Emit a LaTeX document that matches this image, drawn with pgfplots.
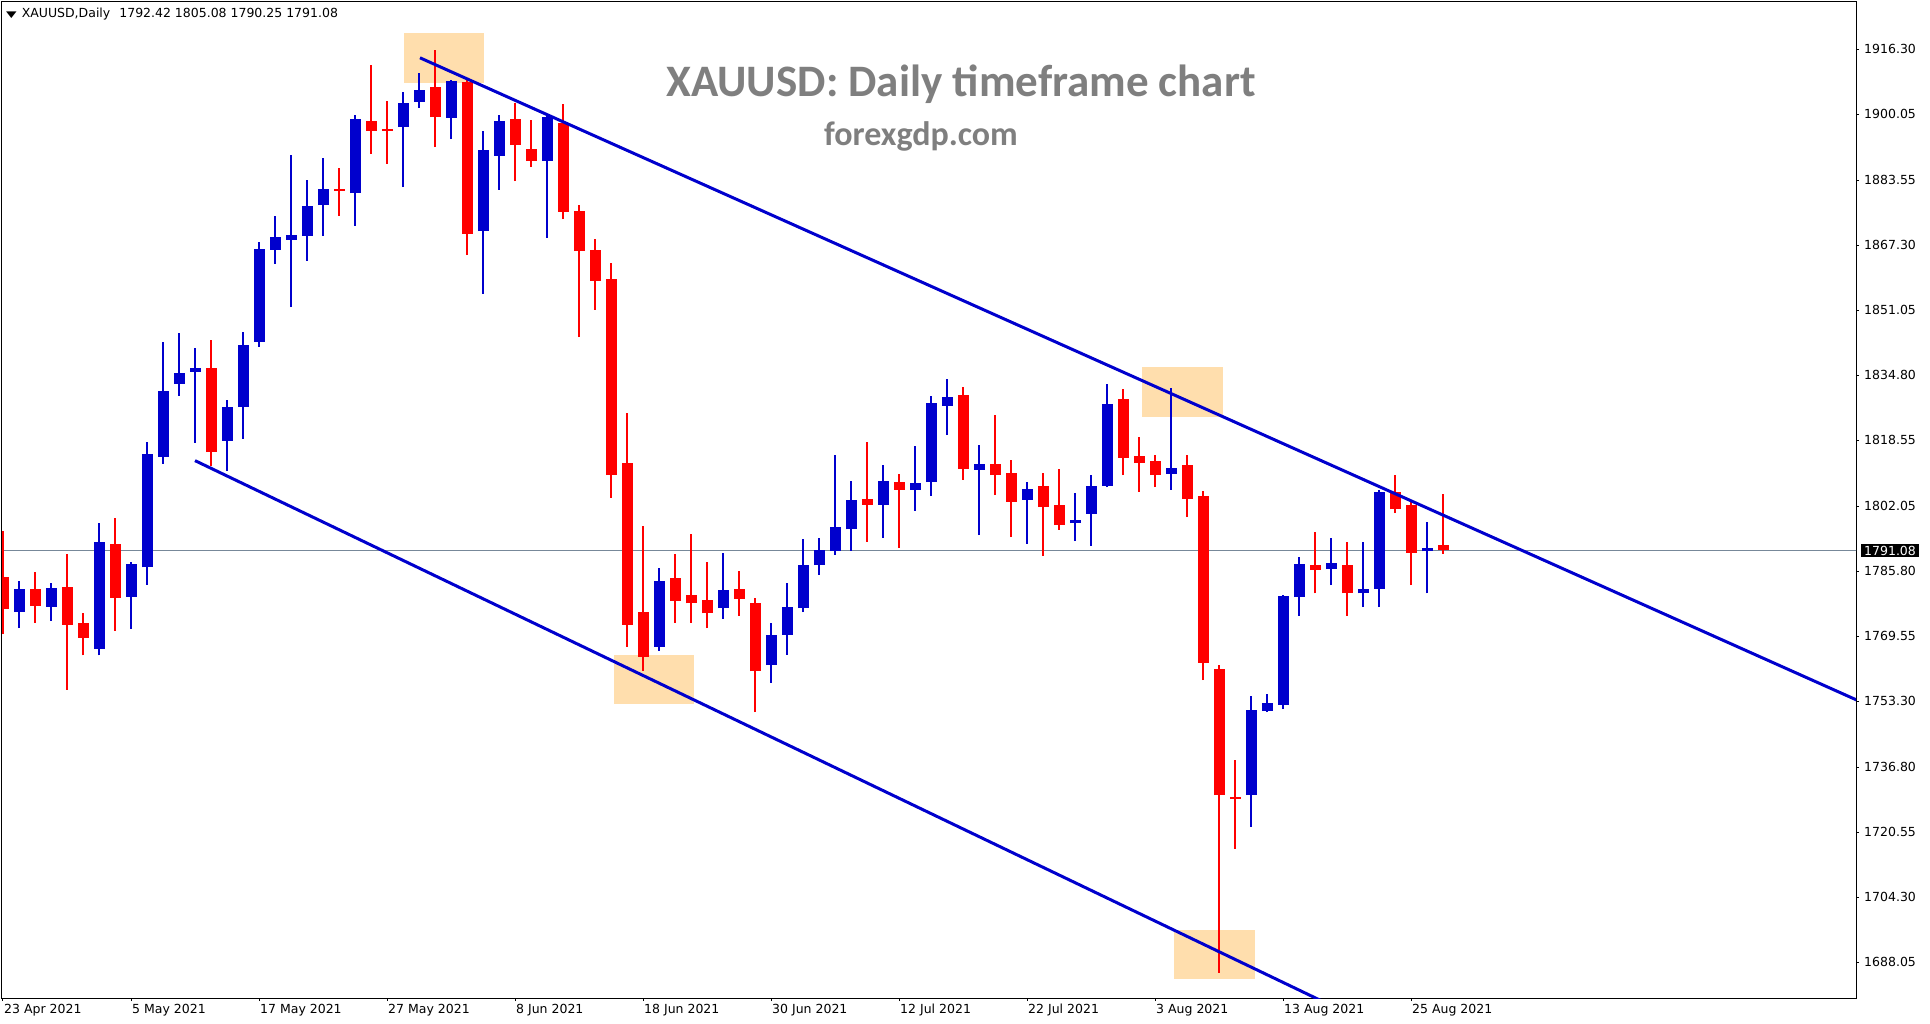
\documentclass[border=0pt]{standalone}
\usepackage{pgfplots}
\pgfplotsset{compat=1.18}
\usepackage{pgfplotstable}
\usepackage{fontspec}
\setmainfont{DejaVu Sans}
\newfontfamily\titlefont{Carlito}

\definecolor{bull}{HTML}{0000CD}
\definecolor{bear}{HTML}{FF0000}
\definecolor{zone}{HTML}{FFDEAD}
\definecolor{bidline}{HTML}{778899}
\definecolor{titlegray}{HTML}{7F7F7F}

% XAUUSD daily candles, i = trading day counted from 23 Apr 2021
\pgfplotstableread{
i  o       h       l       c
0  1784.4  1795.9  1770.1  1776.5
1  1775.6  1783.5  1771.6  1781.5
2  1781.5  1785.7  1773.0  1777.2
3  1777.0  1783.0  1773.5  1781.6
4  1782.0  1790.2  1756.2  1772.5
5  1772.9  1775.3  1764.8  1769.2
6  1766.4  1797.9  1764.8  1793.2
7  1792.7  1799.2  1771.0  1779.2
8  1779.5  1788.2  1771.5  1787.7
9  1786.8  1818.2  1782.5  1815.2
10 1814.5  1843.2  1812.7  1830.9
11 1832.7  1845.4  1829.7  1835.4
12 1835.7  1841.7  1818.0  1836.7
13 1836.7  1843.7  1812.2  1815.6
14 1818.5  1828.7  1811.0  1826.9
15 1826.9  1845.7  1819.0  1842.4
16 1843.2  1868.2  1842.0  1866.4
17 1866.2  1874.7  1862.7  1869.4
18 1868.7  1889.9  1851.9  1869.9
19 1869.7  1883.7  1863.5  1877.2
20 1877.4  1889.2  1869.7  1881.4
21 1881.3  1886.7  1874.7  1880.9
22 1880.4  1899.9  1872.2  1898.9
23 1898.4  1912.4  1890.2  1895.9
24 1896.4  1903.4  1887.7  1896.0
25 1896.9  1905.7  1881.9  1902.9
26 1903.2  1910.4  1901.7  1906.2
27 1906.9  1916.2  1891.9  1899.4
28 1899.2  1908.7  1893.9  1908.4
29 1908.2  1908.6  1864.9  1870.2
30 1870.9  1895.9  1855.2  1891.2
31 1889.7  1899.9  1881.2  1898.4
32 1898.9  1902.9  1883.4  1892.4
33 1891.4  1898.7  1886.9  1888.4
34 1888.4  1899.9  1869.2  1899.4
35 1897.9  1902.7  1873.9  1875.7
36 1875.9  1877.4  1844.4  1865.9
37 1866.2  1868.9  1851.2  1858.4
38 1858.9  1862.9  1804.2  1809.9
39 1812.9  1825.4  1767.0  1772.5
40 1775.6  1797.2  1761.0  1764.5
41 1767.0  1786.7  1766.0  1783.4
42 1784.2  1790.2  1773.0  1778.4
43 1779.9  1795.2  1773.0  1777.8
44 1778.7  1788.2  1771.6  1775.3
45 1776.6  1790.4  1774.0  1781.2
46 1781.4  1785.9  1774.7  1778.9
47 1777.8  1779.2  1750.6  1760.8
48 1762.4  1773.0  1758.0  1769.8
49 1770.0  1782.9  1765.0  1776.9
50 1776.6  1794.0  1775.6  1787.4
51 1787.4  1794.2  1785.0  1791.1
52 1791.0  1814.9  1790.0  1797.0
53 1796.3  1808.5  1791.0  1803.7
54 1804.0  1818.2  1793.2  1802.5
55 1802.5  1812.4  1794.2  1808.4
56 1808.1  1810.2  1791.7  1806.2
57 1806.2  1817.2  1801.0  1808.0
58 1808.1  1829.7  1804.7  1827.9
59 1827.2  1833.9  1819.9  1829.4
60 1829.9  1831.9  1808.7  1811.4
61 1811.2  1817.4  1794.9  1812.7
62 1812.7  1824.9  1804.9  1809.9
63 1810.4  1813.7  1794.4  1803.2
64 1803.7  1808.2  1792.7  1806.4
65 1807.2  1810.4  1789.7  1801.9
66 1802.4  1811.4  1796.2  1797.4
67 1797.9  1805.4  1793.4  1798.7
68 1800.2  1809.9  1792.2  1807.2
69 1807.2  1832.7  1806.9  1827.7
70 1828.9  1831.4  1809.9  1814.2
71 1814.7  1819.4  1805.7  1812.9
72 1813.4  1814.9  1806.9  1809.9
73 1810.2  1831.7  1806.2  1811.7
74 1812.4  1814.9  1799.4  1804.0
75 1804.7  1806.0  1758.6  1763.0
76 1761.4  1762.4  1685.5  1729.9
77 1729.5  1738.6  1716.5  1728.9
78 1729.9  1754.6  1722.0  1751.2
79 1750.9  1755.2  1750.6  1752.8
80 1752.5  1780.0  1751.5  1779.7
81 1779.4  1789.5  1774.7  1787.7
82 1787.4  1795.7  1780.3  1786.1
83 1786.4  1794.2  1782.4  1788.0
84 1787.4  1793.2  1774.7  1780.3
85 1780.3  1793.2  1776.9  1781.5
86 1781.5  1806.2  1776.9  1805.6
87 1805.6  1809.9  1800.4  1801.3
88 1802.5  1803.7  1782.4  1790.5
89 1790.8  1798.2  1780.3  1791.7
90 1792.42 1805.08 1790.25 1791.08
}\ohlc

\begin{document}
\begin{tikzpicture}
\useasboundingbox (0pt,0pt) rectangle (1930pt,1023pt);
\fill[white] (0pt,0pt) rectangle (1930pt,1023pt);
\begin{axis}[
    at={(2pt,25pt)}, anchor=south west,
    scale only axis,
    width=1854pt, height=996pt,
    xmin=-0.0625, xmax=115.81,
    ymin=1679.155, ymax=1928.155,
    font=\fontsize{12.5}{15}\selectfont,
    axis line style={black, line width=1pt},
    tick style={black, line width=1pt},
    tick align=outside,
    major tick length=3pt,
    ytick pos=right, yticklabel pos=right,
    xtick pos=bottom,
    ytick={1688.05,1704.30,1720.55,1736.80,1753.30,1769.55,1785.80,1802.05,1818.55,1834.80,1851.05,1867.30,1883.55,1900.05,1916.30},
    yticklabels={1688.05,1704.30,1720.55,1736.80,1753.30,1769.55,1785.80,1802.05,1818.55,1834.80,1851.05,1867.30,1883.55,1900.05,1916.30},
    xtick={0,8,...,88},
    xticklabels={23 Apr 2021,5 May 2021,17 May 2021,27 May 2021,8 Jun 2021,18 Jun 2021,30 Jun 2021,12 Jul 2021,22 Jul 2021,3 Aug 2021,13 Aug 2021,25 Aug 2021},
    yticklabel style={anchor=west, inner sep=0pt, xshift=5pt},
    xticklabel style={anchor=north west, inner sep=0pt, xshift=1pt, yshift=-3pt},
    candle/.style 2 args={draw=none, mark=none,
        error bars/.cd, y dir=plus, y explicit, error mark=none,
        error bar style={draw=#1, line width=#2}},
]
% marked zones
\addplot[fill=zone, draw=none] coordinates {(25.06,1907.9) (30.06,1907.9) (30.06,1920.4) (25.06,1920.4)} -- cycle;
\addplot[fill=zone, draw=none] coordinates {(71.2,1824.4) (76.25,1824.4) (76.25,1836.9) (71.2,1836.9)} -- cycle;
\addplot[fill=zone, draw=none] coordinates {(38.2,1752.7) (43.2,1752.7) (43.2,1765.0) (38.2,1765.0)} -- cycle;
\addplot[fill=zone, draw=none] coordinates {(73.2,1683.9) (78.25,1683.9) (78.25,1696.2) (73.2,1696.2)} -- cycle;

% current bid line
\addplot[bidline, line width=1pt] coordinates {(-1,1791.08) (118,1791.08)};

% wicks
\addplot[candle={bull}{1.2pt}]
    table[x=i, y=l, y error plus expr={(\thisrow{c}>=\thisrow{o})*(\thisrow{h}-\thisrow{l})}] {\ohlc};
\addplot[candle={bear}{1.2pt}]
    table[x=i, y=l, y error plus expr={(\thisrow{c}<\thisrow{o})*(\thisrow{h}-\thisrow{l})}] {\ohlc};
% bodies
\addplot[candle={bull}{11pt}]
    table[x=i, y expr={min(\thisrow{o},\thisrow{c})}, y error plus expr={max(\thisrow{c}-\thisrow{o},0)}] {\ohlc};
\addplot[candle={bear}{11pt}]
    table[x=i, y expr={min(\thisrow{o},\thisrow{c})}, y error plus expr={max(\thisrow{o}-\thisrow{c},0)}] {\ohlc};

% channel lines
\addplot[bull, line width=3pt] coordinates {(26.06,1914.2) (117,1751.6)};
\addplot[bull, line width=3pt] coordinates {(12.0,1813.5) (83.0,1677.3)};
\end{axis}

% bid price tag on the price scale
\node[anchor=west, inner xsep=3pt, inner ysep=2pt, fill=black, text=white,
    font=\fontsize{12.5}{15}\selectfont] at (1861pt,472.3pt) {1791.08};

\node[anchor=west, inner sep=0pt, font=\fontsize{12.5}{15}\selectfont] at (6pt,1009pt)
    {\scalebox{1.1}[0.7]{▼}\hspace{5pt}XAUUSD,Daily\hspace{9pt}1792.42 1805.08 1790.25 1791.08};
\node[text=titlegray, font=\titlefont\bfseries\fontsize{45}{50}\selectfont] at (961pt,939pt)
    {XAUUSD: Daily timeframe chart};
\node[text=titlegray, font=\titlefont\bfseries\fontsize{34}{39}\selectfont] at (921pt,887pt)
    {forexgdp.com};
\end{tikzpicture}
\end{document}
